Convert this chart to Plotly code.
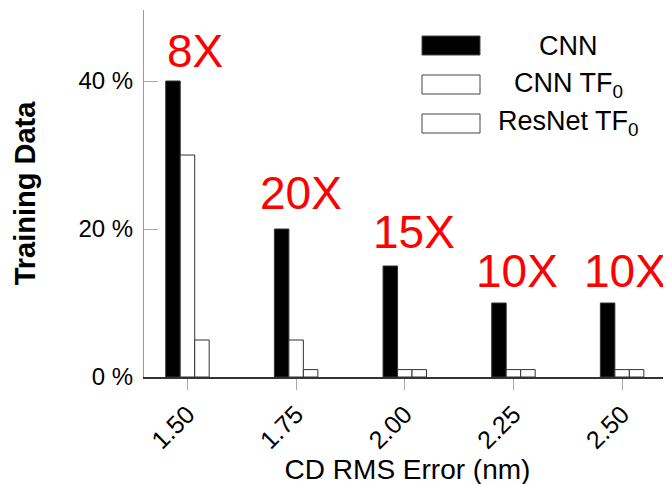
import plotly.graph_objects as go

categories = ["1.50", "1.75", "2.00", "2.25", "2.50"]
cnn = [40, 20, 15, 10, 10]
cnn_tf0 = [30, 5, 1, 1, 1]
resnet_tf0 = [5, 1, 1, 1, 1]
speedup_labels = ["8X", "20X", "15X", "10X", "10X"]
y_tickvals = [0, 20, 40]
y_ticktext = ["0 %", "20 %", "40 %"]
series_names = ["CNN", "CNN TF<sub>0</sub>", "ResNet TF<sub>0</sub>"]
series_fill = ["black", "white", "white"]
series_values = [cnn, cnn_tf0, resnet_tf0]

# page body has an 8px margin: work in screen pixels and convert
OFF = 8
W, H = 671, 484
PLOT_L, PLOT_R, PLOT_T, PLOT_B = 144, 671, 10, 377  # screen px
ML = PLOT_L - OFF
MT = PLOT_T - OFF
MB = H - (PLOT_B - OFF)
MR = W - (PLOT_R - OFF)
PW, PH = PLOT_R - PLOT_L, PLOT_B - PLOT_T

def px_x(p):
    return (p - PLOT_L) / PW

def px_y(p):
    return (PLOT_B - p) / PH

fig = go.Figure()
for name, vals, col in zip(series_names, series_values, series_fill):
    fig.add_trace(go.Bar(
        x=categories, y=vals, name=name, showlegend=False,
        marker=dict(color=col, line=dict(color="#333333", width=1)),
    ))

shifts = [8, 5, 9, 4, 3]
yshifts = [2, 8, 6, 4, 4]
for i, (v, lab, xs, ys) in enumerate(zip(cnn, speedup_labels, shifts, yshifts)):
    fig.add_annotation(x=i, y=v, text=lab, showarrow=False, xanchor="center",
                       yanchor="bottom", xshift=xs, yshift=ys,
                       font=dict(family="Liberation Sans, Arial", size=46, color="#ff0000"))

# legend drawn manually (large rectangles, centered text)
row_centers = [45.5, 84.5, 123.5]
for name, col, yc in zip(series_names, series_fill, row_centers):
    fig.add_shape(type="rect", xref="paper", yref="paper",
                  x0=px_x(422), x1=px_x(480), y0=px_y(yc + 9.5), y1=px_y(yc - 9.5),
                  fillcolor=col, line=dict(color="#444444", width=1))
    fig.add_annotation(xref="paper", yref="paper", x=px_x(568), y=px_y(yc),
                       text=name, showarrow=False, xanchor="center", yanchor="middle",
                       font=dict(family="Liberation Sans, Arial", size=27, color="black"))

fig.update_layout(
    width=W, height=H,
    margin=dict(l=ML, r=MR, t=MT, b=MB, autoexpand=False),
    paper_bgcolor="white", plot_bgcolor="white",
    barmode="group", bargap=0.6, bargroupgap=0,
    font=dict(family="Liberation Sans, Arial", color="black"),
    xaxis=dict(
        type="category", range=[-0.4, 4.45],
        showline=True, linecolor="#333333", linewidth=1.5,
        ticks="outside", ticklen=11, tickcolor="#aaaaaa", tickwidth=1,
        tickangle=-45, tickfont=dict(size=25),
        showgrid=False, zeroline=False,
        title=dict(text="CD RMS Error (nm)", font=dict(size=28), standoff=2),
    ),
    yaxis=dict(
        range=[0, 49.6], tickvals=y_tickvals, ticktext=y_ticktext,
        showline=True, linecolor="#999999", linewidth=1,
        ticks="inside", ticklen=14, tickcolor="#aaaaaa", tickwidth=1,
        tickfont=dict(size=24), ticklabelstandoff=5,
        showgrid=False, zeroline=False,
        title=dict(text="<b>Training Data</b>", font=dict(size=29), standoff=34),
    ),
)

fig.write_html("out.html")
